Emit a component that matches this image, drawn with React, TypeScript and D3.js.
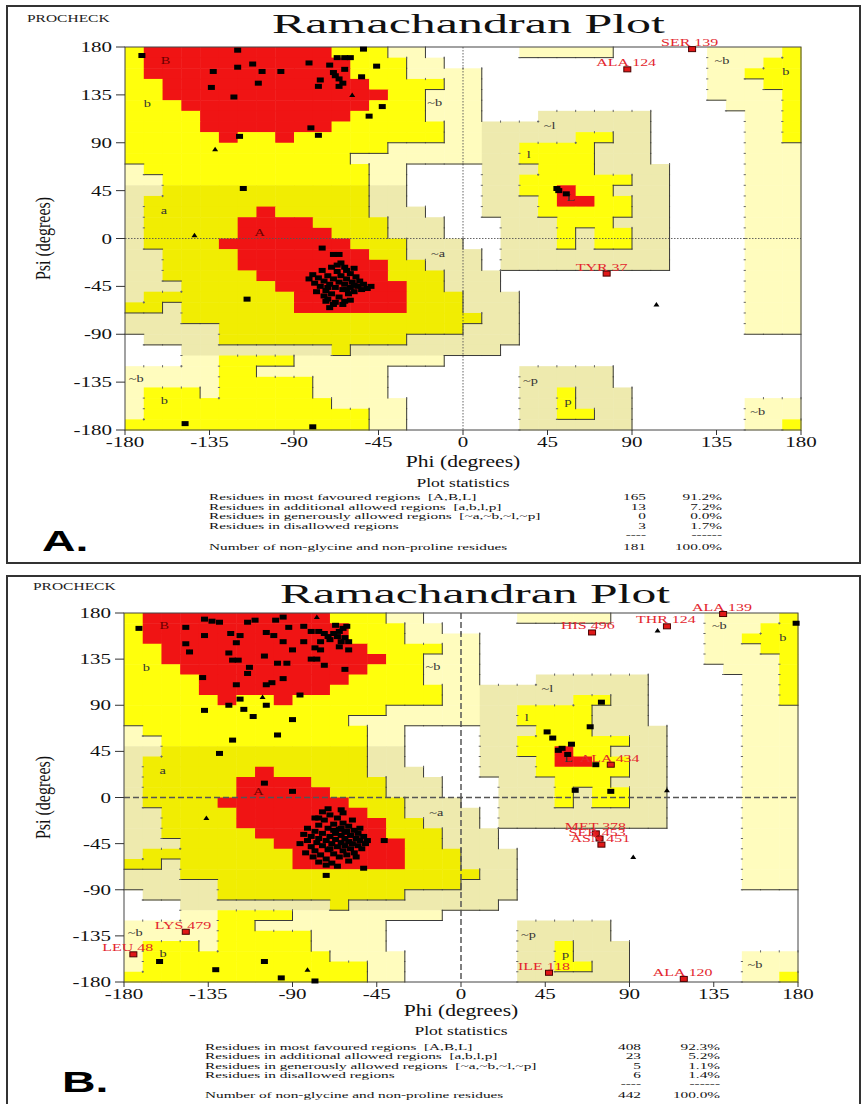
import React from 'react';
import * as d3 from 'd3';

const SERIF = "'Liberation Serif', 'Times New Roman', Times, serif";
const SANS = "'Liberation Sans', Arial, sans-serif";

// PROCHECK region map, 10 degree cells. Rows: psi 180 -> -180, columns: phi -180 -> 180
// R core, Y/y allowed, G/g generously allowed, . disallowed
const REGION_ROWS = [
  'YRRRRRRRRRRYYYGG.....GGGGG.....GGGGY',
  'YRRRRRRRRRRRYYYGG..............GGGYY',
  'YRRRRRRRRRRRYYYGGGG............GGYYY',
  'YYRRRRRRRRRRRYYYYGG............GGGYY',
  'YYRRRRRRRRRRRRYYGGG............GGGGY',
  'YYYRRRRRRRRRRYYYGGG.............GGGY',
  'YYYYRRRRRRRRYYYYGGG...gggggg.....GGY',
  'YYYYRRRRRRRYYYYYYGGggggggggg.....GGY',
  'YYYYYRYYRYYYYYYYYGGgggggYYgg.....GGY',
  'YYYYYYYYYYYYYYGGGGGggYYYYggg.....GGG',
  'YYYYYYYYYYYYGGGGGGGggYYYYggg.....GGG',
  'GYYYYYYYYYYYYGG....gggYYYgggg....GGG',
  'GGYYYYYYYYYYYGG....ggYYYYYYgg....GGG',
  'ggyyyyyyyyyyygg....ggYYRYYggg....GGG',
  'gyyyyyyyyyyyygg....gggYRRYYgg....GGG',
  'gyyyyyyRyyyyyggg...gggYYYYYgg....GGG',
  'gyyyyyRRRRyyyyggg...gggYYYggg....GGG',
  'gyyyyyRRRRRyyyggg...gggYgYYgg....GGG',
  'gyyyyRRRRRRRyyyggg..gggYgYYgg....GGG',
  'ggyyyyRRRRRRRyygggg.ggggggggg....GGG',
  'ggyyyyRRRRRRRRyyggg.ggggggggg....GGG',
  'ggyyyyyRRRRRRRyyyggg.............GGG',
  'gggyyyyyRRRRRRRyyggg.............GGG',
  'gyyyyyyyyRRRRRRyyyggg............GGG',
  'yygyyyyyyRRRRRRyyyggg............GGG',
  'gggyyyyyyyyyyyyyyyygg............GGG',
  'gggggyyyyyyyyyyyyyggg............GGG',
  '.ggggyyyyyyyyyygggggg...............',
  '...ggggggggygggggggg................',
  '...GGYYYYGGGGGGGG...................',
  'GGGGGYYGGGGGGG.......ggggg..........',
  'GGGGGYYYYYGGGG.......ggggg..........',
  'GYYYGYYYYYGGGG.......ggYggg.........',
  'GYYYYYYYYYYGGGG......ggYggg......GGG',
  'GYYYYYYYYYYYYGG......ggYYgg......GGG',
  'YYYYYYYYYYYYYGG......gggggg......GGY',
];

const REGION_FILL: Record<string, string> = {
  R: '#F01414',
  Y: '#FFFF0C',
  y: '#F1ED02',
  G: '#FFFCBE',
  g: '#EEEAAE',
};
const LEVEL: Record<string, number> = { R: 2, Y: 2, y: 2, G: 1, g: 1, '.': 0 };

const AXIS_TICKS = [-180, -135, -90, -45, 0, 45, 90, 135, 180];

// label, phi, psi
const REGION_LABELS: [string, number, number][] = [
  ['B', -161, 168], ['b', -170, 127], ['a', -161, 27], ['A', -111, 6],
  ['~b', -19, 128], ['~l', 43, 107], ['l', 34, 79], ['L', 55, 39],
  ['~b', 134, 168], ['b', 170, 157], ['~a', -17, -14],
  ['~b', -178, -131], ['b', -161, -152], ['~p', 32, -133], ['p', 54, -153], ['~b', 153, -162],
];

const STAT_LABELS = [
  'Residues in most favoured regions  [A,B,L]',
  'Residues in additional allowed regions  [a,b,l,p]',
  'Residues in generously allowed regions  [~a,~b,~l,~p]',
  'Residues in disallowed regions',
];
const STAT_TOTAL_LABEL = 'Number of non-glycine and non-proline residues';

// ---------- panel A data ----------
const residuesA = [
  [-171, 172], [-120, 177], [-53, 178], [-133, 157], [-120, 161], [-112, 164], [-107, 157],
  [-97, 157], [-82, 165], [-71, 163], [-67, 170], [-63, 170], [-60, 170], [-63, 159],
  [-69, 156], [-68, 153], [-66, 150], [-64, 146], [-66, 143], [-76, 149], [-77, 143],
  [-134, 142], [-122, 133], [-109, 146], [-54, 152], [-46, 162], [-43, 124], [-50, 115],
  [-81, 104], [-77, 97], [-119, 96], [-117, 47], [-148, -174], [-80, -177], [-115, -57],
  [50, 47], [51, 45], [55, 42],
];
const helixA = [
  [-75, -9], [-69, -15], [-66, -15], [-65, -23], [-82, -38], [-80, -34], [-79, -42], [-77, -37],
  [-76, -45], [-75, -30], [-74, -40], [-73, -49], [-72, -35], [-71, -43], [-70, -27], [-70, -52],
  [-69, -38], [-68, -46], [-67, -31], [-66, -41], [-66, -55], [-65, -35], [-64, -48], [-63, -27],
  [-63, -43], [-62, -38], [-61, -52], [-60, -33], [-60, -46], [-59, -41], [-58, -50], [-57, -36],
  [-56, -45], [-55, -40], [-54, -48], [-53, -43], [-51, -47], [-49, -45], [-72, -57], [-68, -60],
  [-64, -62], [-60, -58], [-74, -54], [-78, -50], [-67, -25], [-62, -30], [-58, -28], [-72, -46],
  [-62, -48], [-58, -44], [-73, -59], [-69, -62], [-63, -59], [-71, -65],
];
const glycineA = [[-132, 84], [-59, 135], [-143, 3], [103, -62]];
const outliersA = [
  { name: 'SER 139', phi: 122, psi: 178 },
  { name: 'ALA 124', phi: 87.5, psi: 159 },
  { name: 'TYR 37', phi: 76.5, psi: -33 },
];
const countsA = [165, 13, 0, 3];
const pctsA = ['91.2%', '7.2%', '0.0%', '1.7%'];
const totalA = [181, '100.0%'];

// ---------- panel B data ----------
const residuesB = [
  [-172, 165], [-147, 166], [-137, 174], [-133, 172], [-129, 171], [-123, 160], [-118, 158],
  [-114, 171], [-110, 173], [-120, 151], [-147, 150], [-137, 158], [-145, 142], [-124, 141],
  [-122, 134], [-119, 134], [-113, 127], [-104, 161], [-100, 158], [-99, 173], [-95, 176],
  [-92, 166], [-95, 152], [-84, 167], [-80, 162], [-84, 152], [-78, 146], [-76, 162], [-75, 152],
  [-73, 160], [-71, 157], [-70, 154], [-68, 160], [-65, 162], [-61, 167], [-67, 168], [-63, 165],
  [-64, 152], [-65, 147], [-60, 144], [-60, 152], [-66, 157], [-62, 156], [-75, 144], [-77, 135],
  [-90, 144], [-80, 135], [-73, 129], [-62, 125], [-93, 131], [-105, 138], [-98, 131], [-114, 121],
  [-101, 112], [-95, 116], [-104, 110], [-120, 110], [-138, 117], [-86, 100], [-124, 90], [-118, 96],
  [-116, 86], [-111, 79], [-104, 90], [-90, 76], [-137, 85], [-98, 61], [-122, 56], [-129, 43],
  [-105, 14], [-90, 6], [-71, -11], [-64, -12], [-76, -20], [-41, -42], [-52, -69], [-72, -76],
  [-161, -160], [-131, -168], [-105, -160], [-96, -176], [-78, -179],
  [75, 93], [69, 69], [46, 64], [49, 58], [52, 46], [54, 48], [59, 52], [57, 42], [72, 32],
  [61, 7], [80, 6], [179, 170],
];
const helixB = [
  [-84, -36], [-82, -42], [-82, -30], [-80, -48], [-80, -38], [-78, -33], [-78, -52], [-77, -44],
  [-76, -27], [-76, -40], [-75, -56], [-74, -35], [-74, -47], [-73, -22], [-72, -42], [-72, -60],
  [-71, -30], [-71, -51], [-70, -38], [-70, -17], [-69, -45], [-69, -64], [-68, -26], [-68, -55],
  [-67, -35], [-67, -41], [-66, -48], [-66, -20], [-65, -31], [-65, -58], [-64, -44], [-64, -37],
  [-63, -52], [-63, -25], [-62, -40], [-62, -47], [-61, -33], [-61, -56], [-60, -43], [-60, -28],
  [-59, -50], [-59, -37], [-58, -45], [-57, -32], [-57, -54], [-56, -40], [-55, -47], [-55, -35],
  [-54, -42], [-53, -50], [-52, -38], [-51, -45], [-50, -42], [-79, -58], [-83, -54], [-86, -45],
  [-76, -63], [-72, -66], [-66, -67], [-60, -62], [-63, -15], [-58, -22], [-74, -14], [-78, -20],
  [-54, -30], [-56, -58], [-70, -50], [-64, -30], [-68, -32], [-62, -34],
];
const glycineB = [
  [-106, 98], [-145, 142], [-77, 176], [-136, -20], [-82, -168], [105, 163], [110, 7], [92, -58],
];
const outliersB = [
  { name: 'HIS 496', phi: 70, psi: 161 },
  { name: 'THR 124', phi: 110, psi: 167 },
  { name: 'ALA 139', phi: 140, psi: 179 },
  { name: 'ALA 434', phi: 80, psi: 32 },
  { name: 'MET 378', phi: 72, psi: -35 },
  { name: 'SER 453', phi: 74, psi: -40 },
  { name: 'ASN 451', phi: 75, psi: -46 },
  { name: 'LYS 479', phi: -147, psi: -131 },
  { name: 'LEU 48', phi: -175, psi: -153 },
  { name: 'ILE 118', phi: 47, psi: -171 },
  { name: 'ALA 120', phi: 119, psi: -177 },
];
const countsB = [408, 23, 5, 6];
const pctsB = ['92.3%', '5.2%', '1.1%', '1.4%'];
const totalB = [442, '100.0%'];

const PANELS = [
  {
    key: 'A',
    frame: { x: 7, y: 6, w: 853, h: 557 },
    plot: { left: 125, right: 801, top: 47, bottom: 430 },
    title: { x: 272, y: 33, w: 393 },
    procheck: { x: 27, y: 22 },
    letter: { text: 'A.', x: 42, y: 551 },
    phiLabelY: 467,
    statsTitleY: 487,
    rowsY: [500, 509.5, 519, 528.5, 538, 550],
    statX: 209, numX: 646, pctX: 722,
    zeroDash: '1.5,1.5', zeroWidth: 0.9,
    residues: residuesA, helix: helixA, glycine: glycineA, outliers: outliersA,
    counts: countsA, pcts: pctsA, total: totalA,
  },
  {
    key: 'B',
    frame: { x: 7, y: 576, w: 853, h: 560 },
    plot: { left: 124, right: 798, top: 613, bottom: 982 },
    title: { x: 280, y: 603, w: 390 },
    procheck: { x: 33, y: 590 },
    letter: { text: 'B.', x: 62, y: 1092 },
    phiLabelY: 1016,
    statsTitleY: 1035,
    rowsY: [1050, 1059, 1068.5, 1078, 1087, 1098],
    statX: 205, numX: 641, pctX: 720,
    zeroDash: '6,3', zeroWidth: 1.5,
    residues: residuesB, helix: helixB, glycine: glycineB, outliers: outliersB,
    counts: countsB, pcts: pctsB, total: totalB,
  },
];

const SText = ({ x, y, sx = 1, size, anchor = 'start', fill = '#111', weight = 'normal', family = SERIF, children }: any) => (
  <text
    transform={`translate(${x},${y}) scale(${sx},1)`}
    fontSize={size}
    textAnchor={anchor}
    fill={fill}
    fontWeight={weight}
    fontFamily={family}
    style={{ whiteSpace: 'pre' }}
  >
    {children}
  </text>
);

function Panel({ p }: any) {
  const { plot } = p;
  const x = d3.scaleLinear().domain([-180, 180]).range([plot.left, plot.right]);
  const y = d3.scaleLinear().domain([-180, 180]).range([plot.bottom, plot.top]);
  const cellW = x(-170) - x(-180);
  const cellH = y(170) - y(180);

  const cell = (r: number, c: number) => (REGION_ROWS[r] || '')[c] || '.';
  const lvl = (r: number, c: number) => LEVEL[cell(r, c)] ?? 0;

  const cells: any[] = [];
  for (let r = 0; r < 36; r++) {
    for (let c = 0; c < 36; c++) {
      const ch = cell(r, c);
      if (ch === '.') continue;
      const phi = -180 + c * 10;
      const psi = 180 - r * 10;
      cells.push(
        <rect key={`${r}-${c}`} x={x(phi)} y={y(psi)} width={cellW + 0.5} height={cellH + 0.5} fill={REGION_FILL[ch]} />
      );
    }
  }

  // region boundaries: solid where the higher level is left/above, small ticks otherwise
  const solid = d3.path();
  const dots = d3.path();
  for (let r = 0; r < 36; r++) {
    for (let c = 1; c < 36; c++) {
      const a = lvl(r, c - 1), b = lvl(r, c);
      const xx = x(-180 + c * 10), y0 = y(180 - r * 10);
      if (a > b) { solid.moveTo(xx, y0); solid.lineTo(xx, y0 + cellH); }
      else if (a < b) { dots.moveTo(xx - 1, y0 + cellH); dots.lineTo(xx + 1.2, y0 + cellH); }
    }
  }
  for (let r = 1; r < 36; r++) {
    for (let c = 0; c < 36; c++) {
      const a = lvl(r - 1, c), b = lvl(r, c);
      const yy = y(180 - r * 10), x0 = x(-180 + c * 10);
      if (a > b) { solid.moveTo(x0, yy); solid.lineTo(x0 + cellW, yy); }
      else if (a < b) { dots.moveTo(x0 + cellW, yy - 1); dots.lineTo(x0 + cellW, yy + 1.2); }
    }
  }

  const tri = (px: number, py: number) => `M${px - 3},${py + 2} L${px + 3},${py + 2} L${px},${py - 2.5} Z`;
  const cx = (plot.left + plot.right) / 2;
  const cy = (plot.top + plot.bottom) / 2;
  const fs = 8.5;
  const ssx = 1.8;

  return (
    <g>
      <rect x={p.frame.x} y={p.frame.y} width={p.frame.w} height={p.frame.h} fill="none" stroke="#333" strokeWidth={2} />
      <SText x={p.procheck.x} y={p.procheck.y} size={10} sx={1.55} fill="#222">PROCHECK</SText>
      <text x={p.title.x} y={p.title.y} fontSize={27} fontFamily={SERIF} fill="#111"
        textLength={p.title.w} lengthAdjust="spacingAndGlyphs">Ramachandran Plot</text>

      {cells}
      <path d={solid.toString()} stroke="#3a3a3a" strokeWidth={1} fill="none" strokeLinecap="square" />
      <path d={dots.toString()} stroke="#666" strokeWidth={1} fill="none" />

      <line x1={x(0)} x2={x(0)} y1={plot.top} y2={plot.bottom} stroke="#555" strokeWidth={p.zeroWidth} strokeDasharray={p.zeroDash} />
      <line x1={plot.left} x2={plot.right} y1={y(0)} y2={y(0)} stroke="#555" strokeWidth={p.zeroWidth} strokeDasharray={p.zeroDash} />

      {REGION_LABELS.map(([t, phi, psi], i) => (
        <SText key={i} x={x(phi)} y={y(psi) + 4} size={11} sx={1.3}
          fill={t === 'A' || t === 'B' ? '#6a0000' : '#333'}>{t}</SText>
      ))}

      <rect x={plot.left} y={plot.top} width={plot.right - plot.left} height={plot.bottom - plot.top}
        fill="none" stroke="#444" strokeWidth={1} />

      {AXIS_TICKS.map(t => (
        <g key={`y${t}`}>
          <line x1={plot.left - 9} x2={plot.left} y1={y(t)} y2={y(t)} stroke="#333" strokeWidth={1} />
          <SText x={plot.left - 13} y={y(t) + 5} size={14} sx={1.5} anchor="end">{t}</SText>
        </g>
      ))}
      {AXIS_TICKS.map(t => (
        <g key={`x${t}`}>
          <line x1={x(t)} x2={x(t)} y1={plot.bottom} y2={plot.bottom + 5} stroke="#333" strokeWidth={1} />
          <SText x={x(t)} y={plot.bottom + 17} size={14} sx={1.5} anchor="middle">{t}</SText>
        </g>
      ))}

      <SText x={cx} y={p.phiLabelY} size={16} sx={1.35} anchor="middle">Phi (degrees)</SText>
      <text transform={`translate(50,${cy}) scale(1.3,1) rotate(-90)`} fontSize={16} fontFamily={SERIF}
        textAnchor="middle" fill="#111">Psi (degrees)</text>

      {p.residues.concat(p.helix).map(([phi, psi]: number[], i: number) => (
        <rect key={`r${i}`} x={x(phi) - 3.5} y={y(psi) - 2.5} width={7} height={5} fill="#000" />
      ))}
      {p.glycine.map(([phi, psi]: number[], i: number) => (
        <path key={`g${i}`} d={tri(x(phi), y(psi))} fill="#000" />
      ))}
      {p.outliers.map((o: any, i: number) => (
        <g key={`o${i}`}>
          <rect x={x(o.phi) - 3.5} y={y(o.psi) - 2.5} width={7} height={5} fill="#E01818" stroke="#4a0000" strokeWidth={1} />
          <SText x={x(o.phi) - 31} y={y(o.psi) - 3} size={11} sx={1.45} fill="#E3262E">{o.name}</SText>
        </g>
      ))}

      <SText x={cx} y={p.statsTitleY} size={13.5} sx={1.3} anchor="middle">Plot statistics</SText>
      {STAT_LABELS.map((label, i) => (
        <g key={`s${i}`}>
          <SText x={p.statX} y={p.rowsY[i]} size={fs} sx={ssx}>{label}</SText>
          <SText x={p.numX} y={p.rowsY[i]} size={fs} sx={ssx} anchor="end">{p.counts[i]}</SText>
          <SText x={p.pctX} y={p.rowsY[i]} size={fs} sx={ssx} anchor="end">{p.pcts[i]}</SText>
        </g>
      ))}
      <SText x={p.numX} y={p.rowsY[4]} size={fs} sx={ssx} anchor="end">----</SText>
      <SText x={p.pctX} y={p.rowsY[4]} size={fs} sx={ssx} anchor="end">------</SText>
      <SText x={p.statX} y={p.rowsY[5]} size={fs} sx={ssx}>{STAT_TOTAL_LABEL}</SText>
      <SText x={p.numX} y={p.rowsY[5]} size={fs} sx={ssx} anchor="end">{p.total[0]}</SText>
      <SText x={p.pctX} y={p.rowsY[5]} size={fs} sx={ssx} anchor="end">{p.total[1]}</SText>

      <SText x={p.letter.x} y={p.letter.y} size={29} sx={1.6} weight="bold" family={SANS} fill="#000">{p.letter.text}</SText>
    </g>
  );
}

export default function App() {
  return (
    <svg width={868} height={1104} style={{ position: 'absolute', left: 0, top: 0, background: '#fff' }}>
      <rect width={868} height={1104} fill="#fff" />
      {PANELS.map(p => <Panel key={p.key} p={p} />)}
    </svg>
  );
}
